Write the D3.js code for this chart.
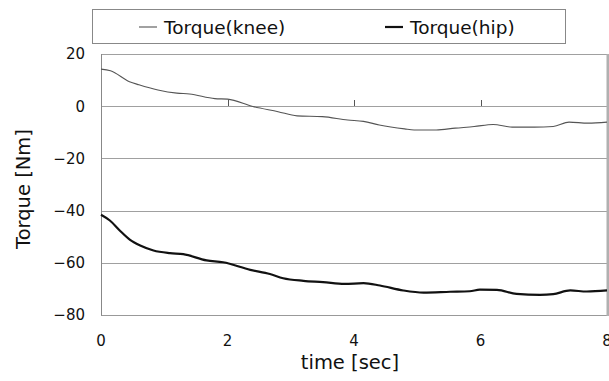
<!DOCTYPE html>
<html><head><meta charset="utf-8">
<script src="https://cdn.jsdelivr.net/npm/d3@7/dist/d3.min.js"></script>
<style>body{margin:0;background:#fff}svg{display:block}text{font-family:"DejaVu Sans",sans-serif;fill:#111}</style>
</head><body>
<svg id="c" width="609" height="381"></svg>
<script>
const kneeTime = [0,0.15,0.45,0.6,0.9,1.2,1.4,1.8,2.0,2.4,2.8,3.1,3.5,3.9,4.15,4.4,4.8,4.95,5.3,5.6,5.9,6.2,6.5,6.85,7.15,7.4,7.7,8];
const kneeTorque = [14.2,13.6,9.4,8.2,6.2,5.0,4.7,2.9,2.7,-0.1,-2.1,-3.7,-4.0,-5.3,-5.8,-7.2,-8.7,-9.1,-9.1,-8.4,-7.8,-7.0,-8.0,-8.0,-7.8,-6.1,-6.5,-6.1];
const hipTime = [0,0.14,0.3,0.46,0.62,0.83,1.09,1.3,1.67,1.93,2.36,2.67,2.88,3.2,3.51,3.85,4.15,4.41,4.78,5.1,5.52,5.83,5.99,6.26,6.57,6.94,7.15,7.42,7.68,8];
const hipTorque = [-41.6,-43.8,-47.7,-51.2,-53.4,-55.3,-56.3,-56.7,-59.1,-59.8,-62.7,-64.3,-65.9,-66.9,-67.4,-68.1,-67.8,-68.7,-70.6,-71.4,-71.1,-70.9,-70.3,-70.4,-71.9,-72.3,-72.0,-70.6,-71.0,-70.6];
const xTicks = [0,2,4,6,8];
const yTicks = [20,0,-20,-40,-60,-80];
const seriesNames = ["Torque(knee)","Torque(hip)"];

const svg = d3.select("#c");
const x = d3.scaleLinear().domain([0,8]).range([101,607]);
const y = d3.scaleLinear().domain([-80,20]).range([315,54]);

// gridlines
svg.append("g").selectAll("line").data(yTicks).join("line")
  .attr("x1",x(0)).attr("x2",x(8)).attr("y1",d=>Math.round(y(d))+0.5).attr("y2",d=>Math.round(y(d))+0.5)
  .attr("stroke",d=>d===-80?"#999":"#a0a0a0").attr("stroke-width",1);
// left axis line
svg.append("line").attr("x1",x(0)+0.5).attr("x2",x(0)+0.5).attr("y1",y(20)).attr("y2",y(-80)+0.5)
  .attr("stroke","#888");
// right border
svg.append("line").attr("x1",x(8)+1).attr("x2",x(8)+1).attr("y1",y(20)).attr("y2",y(-80)+1)
  .attr("stroke","#b0b0b0").attr("stroke-width",3);
// x tick marks at zero line
svg.append("g").selectAll("line").data(xTicks.filter(d=>d>0&&d<8)).join("line")
  .attr("x1",d=>Math.round(x(d))+0.5).attr("x2",d=>Math.round(x(d))+0.5)
  .attr("y1",Math.round(y(0))).attr("y2",Math.round(y(0))-6).attr("stroke","#555");

// tick labels
svg.append("g").selectAll("text").data(yTicks).join("text")
  .attr("x",85).attr("y",d=>y(d)).attr("dy","0.36em").attr("text-anchor","end")
  .attr("font-size",15).text(d=>d===0?"0":d<0?"\u2212"+Math.abs(d):d);
svg.append("g").selectAll("text").data(xTicks).join("text")
  .attr("x",d=>x(d)).attr("y",341).attr("dy","0.36em").attr("text-anchor","middle")
  .attr("font-size",15).text(d=>d);

// axis titles
svg.append("text").attr("x",350).attr("y",362).attr("dy","0.36em").attr("text-anchor","middle")
  .attr("font-size",19.5).text("time [sec]");
svg.append("text").attr("transform","translate(23,189) rotate(-90)").attr("dy","0.36em")
  .attr("text-anchor","middle").attr("font-size",19.5).text("Torque [Nm]");

// lines
const line = d3.line().curve(d3.curveMonotoneX);
svg.append("path").attr("d",line(kneeTime.map((t,i)=>[x(t),y(kneeTorque[i])])))
  .attr("fill","none").attr("stroke","#555").attr("stroke-width",1.1);
svg.append("path").attr("d",line(hipTime.map((t,i)=>[x(t),y(hipTorque[i])])))
  .attr("fill","none").attr("stroke","#111").attr("stroke-width",2.2);

// legend
svg.append("rect").attr("x",92.5).attr("y",9.5).attr("width",473).attr("height",34)
  .attr("fill","#fff").attr("stroke","#888");
const lg = [{n:seriesNames[0],x:139,w:1.1,c:"#555"},{n:seriesNames[1],x:385,w:2.2,c:"#111"}];
lg.forEach(d=>{
  svg.append("line").attr("x1",d.x).attr("x2",d.x+18).attr("y1",27).attr("y2",27)
    .attr("stroke",d.c).attr("stroke-width",d.w);
  svg.append("text").attr("x",d.x+25).attr("y",27).attr("dy","0.36em").attr("font-size",18.5).text(d.n);
});
</script>
</body></html>
